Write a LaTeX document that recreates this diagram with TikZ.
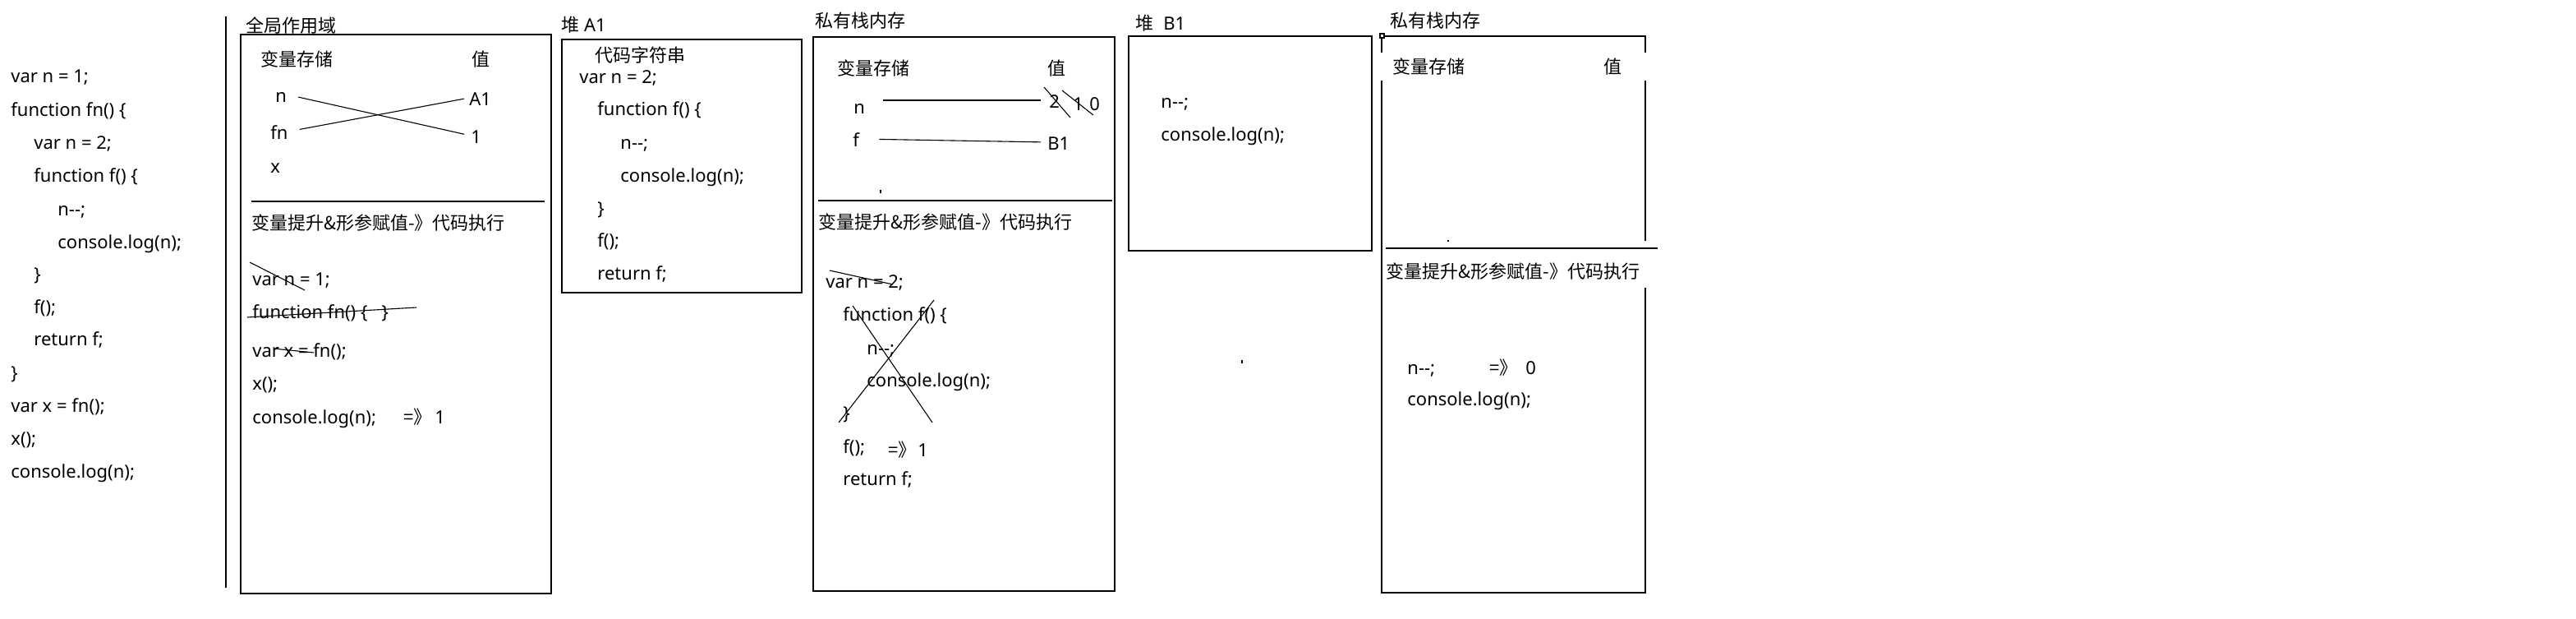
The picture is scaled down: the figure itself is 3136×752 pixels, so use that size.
\documentclass[tikz,border=0pt]{standalone}
\usepackage{fontspec}
\setmainfont{Noto Sans}
\newfontfamily\cjk{Noto Sans CJK SC}
\begin{document}
\begin{tikzpicture}[x=0.5pt,y=-0.5pt,
  txt/.style={anchor=west,inner sep=0pt,text height=10pt,text depth=0.5pt,font=\fontsize{11}{13}\selectfont},
  zh/.style={txt,font=\cjk\fontsize{11}{13}\selectfont},
  frame/.style={draw,line width=0.8pt},
  thin/.style={line width=0.55pt}]
\useasboundingbox (0,0) rectangle (3136,752);

% source code
\node[txt] (c1) at (13,91) {var n = 1;};
\node[txt] (c2) at (13,132) {function fn() \{};
\node[txt] (c3) at (41,172) {var n = 2;};
\node[txt] (c4) at (41,212) {function f() \{};
\node[txt] (c5) at (70,253) {n-{}-;};
\node[txt] (c6) at (70,293) {console.log(n);};
\node[txt] (c7) at (41,332) {\}};
\node[txt] (c8) at (41,372) {f();};
\node[txt] (c9) at (41,411) {return f;};
\node[txt] (c10) at (13,452) {\}};
\node[txt] (c11) at (13,492) {var x = fn();};
\node[txt] (c12) at (13,532) {x();};
\node[txt] (c13) at (13,572) {console.log(n);};
\draw[line width=0.7pt] (275,20) -- (275,715);

% global scope
\node[zh] (g) at (299,30) {全局作用域};
\draw[frame] (293,42) rectangle (671,722);
\node[zh] (gvar) at (317,71) {变量存储};
\node[zh] (gval) at (574,71) {值};
\node[txt] (gn) at (335,115) {n};
\node[txt] (gfn) at (329,160) {fn};
\node[txt] (gx) at (329,201) {x};
\node[txt] (ga1) at (571,119) {A1};
\node[txt] (gone) at (573,165) {1};
\draw[thin,shorten <=7pt,shorten >=4pt] (gn.east) -- (gone.west);
\draw[thin,shorten <=7pt,shorten >=3pt] (gfn.east) -- (ga1.west);
\draw[thin] (306,245) -- (663,245);
\node[zh] (gstep) at (306,270) {变量提升\&形参赋值-》代码执行};
\node[txt] (ge1) at (307,338) {var n = 1;};
\node[txt] (ge2) at (307,378) {function fn() \{\ \ \ \}};
\node[txt] (ge3) at (307,425) {var x = fn();};
\node[txt] (ge4) at (307,465) {x();};
\node[txt] (ge5) at (307,506) {console.log(n);};
\node[zh] (gres) at (491,506) {=》};
\node[txt] (gout) at (529,506) {1};
\draw[thin] (304,319) -- (371,353);
\draw[thin] (301,386) -- (507,374);
\draw[thin] (333,424) -- (382,429);

% heap A1
\node[txt] (ha) at (683,29) {{\cjk 堆} A1};
\draw[frame] (684,48) rectangle (976,356);
\node[zh] (hsrc) at (724,66) {代码字符串};
\node[txt] (h1) at (705,92) {var n = 2;};
\node[txt] (h2) at (727,131) {function f() \{};
\node[txt] (h3) at (755,172) {n-{}-;};
\node[txt] (h4) at (755,212) {console.log(n);};
\node[txt] (h5) at (727,252) {\}};
\node[txt] (h6) at (727,291) {f();};
\node[txt] (h7) at (727,331) {return f;};

% private stack of fn
\node[zh] (p) at (992,24) {私有栈内存};
\draw[frame] (990,45) rectangle (1357,719);
\node[zh] (pvar) at (1019,82) {变量存储};
\node[zh] (pval) at (1275,82) {值};
\node[txt] (pn) at (1039,129) {n};
\node[txt] (pf) at (1038,169) {f};
\node[txt] (pv2) at (1277,122) {2};
\node[txt] (pv1) at (1306,125) {1};
\node[txt] (pv0) at (1326,125) {0};
\node[txt] (pb1) at (1275,173) {B1};
\draw[thin,shorten <=11pt,shorten >=5pt] (pn.east |- pv2.west) -- (pv2.west);
\draw[thin,shorten <=12pt,shorten >=4pt] (pf.east) -- (pb1.west);
\draw[thin] (1271,106) -- (1303,143);
\draw[thin] (1293,110) -- (1331,140);
\fill (1071,231) rectangle (1073,235);
\draw[thin] (996,244) -- (1354,244);
\node[zh] (pstep) at (996,269) {变量提升\&形参赋值-》代码执行};
\node[txt] (pe1) at (1005,341) {var n = 2;};
\node[txt] (pe2) at (1026,381) {function f() \{};
\node[txt] (pe3) at (1055,422) {n-{}-;};
\node[txt] (pe4) at (1055,461) {console.log(n);};
\node[txt] (pe5) at (1026,501) {\}};
\node[txt] (pe6) at (1026,542) {f();};
\node[zh] (pres) at (1081,546) {=》};
\node[txt] (pout) at (1117,546) {1};
\node[txt] (pe7) at (1026,581) {return f;};
\draw[thin] (1010,329) -- (1087,346);
\draw[thin] (1038,372) -- (1135,514);
\draw[thin] (1137,365) -- (1021,514);

% heap B1
\node[txt] (hb) at (1382,27) {{\cjk 堆}\hspace{6pt}B1};
\draw[frame] (1374,44) rectangle (1670,305);
\node[txt] (b1) at (1413,122) {n-{}-;};
\node[txt] (b2) at (1413,162) {console.log(n);};
\fill (1511,438) rectangle (1513,442);

% private stack of f
\node[zh] (q) at (1692,24) {私有栈内存};
\draw[frame] (1682,44) rectangle (2003,721);
\draw[thin,fill=white] (1680,41) rectangle (1685,46);
\fill[white] (1678,64) rectangle (2007,98);
\node[zh] (qvar) at (1695,80) {变量存储};
\node[zh] (qval) at (1952,80) {值};
\fill[white] (1996,293) rectangle (2008,350);
\draw[thin] (1687,302) -- (2018,302);
\fill (1762,292) rectangle (1764,294);
\node[zh] (qstep) at (1687,329) {变量提升\&形参赋值-》代码执行};
\node[txt] (qe1) at (1713,446) {n-{}-;};
\node[zh] (qres) at (1813,446) {=》};
\node[txt] (qout) at (1857,446) {0};
\node[txt] (qe2) at (1713,484) {console.log(n);};
\end{tikzpicture}
\end{document}
